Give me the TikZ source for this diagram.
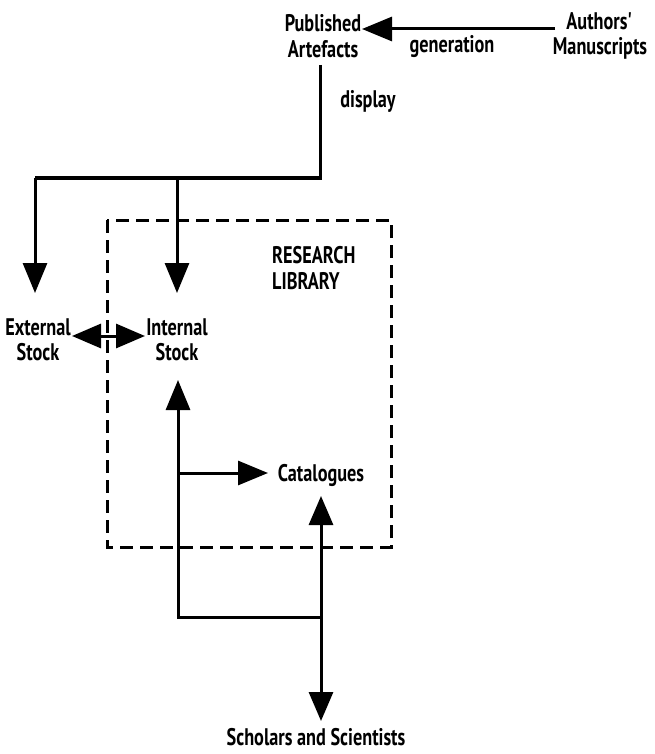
\documentclass[tikz,border=0pt]{standalone}
\usepackage{fontspec}
\setmainfont{PT Sans}[FakeStretch=0.76]
\usetikzlibrary{arrows.meta}
\tikzset{
  lbl/.style={align=center, inner sep=0pt, font=\fontsize{24}{25.5}\selectfont\bfseries},
  conn/.style={line width=3pt},
  head/.style={-{Triangle[length=30pt,width=24pt]}},
  dhead/.style={{Triangle[length=29pt,width=24pt]}-{Triangle[length=29pt,width=24pt]}},
  libbox/.style={line width=3pt, dash pattern=on 13pt off 7pt}
}
\begin{document}
\begin{tikzpicture}[x=1pt,y=-1pt]
\useasboundingbox (0,0) rectangle (654,754);

% library boundary
\draw[libbox] (107,220) rectangle (391,547);

% labels
\node[lbl] (pub)  at (323,36) {Published\\Artefacts};
\node[lbl] (auth) at (600,36) {Authors\textquotesingle\\Manuscripts};
\node[lbl] (gen)  at (452,47) {generation};
\node[lbl] (disp) at (368,101) {display};
\node[lbl, align=left, anchor=west] (lib) at (272,268) {RESEARCH\\LIBRARY};
\node[lbl] (ext)  at (38,340) {External\\Stock};
\node[lbl] (int)  at (177,340) {Internal\\Stock};
\node[lbl] (cat)  at (321,475) {Catalogues};
\node[lbl] (sch)  at (316,737) {Scholars and Scientists};

% junction points
\coordinate (pubfoot) at (320,65);
\coordinate (split)   at (320,178);
\coordinate (extsp)   at (35,178);
\coordinate (intsp)   at (177,178);
\coordinate (exttip)  at (35,293);
\coordinate (inttip)  at (177,293);
\coordinate (gentail) at (555,29);
\coordinate (gentip)  at (362,29);
\coordinate (xl)      at (72,336);
\coordinate (xr)      at (145,336);
\coordinate (upint)   at (178,380);
\coordinate (branch)  at (178,473);
\coordinate (cattip)  at (268,473);
\coordinate (corner)  at (178,617);
\coordinate (join)    at (321,617);
\coordinate (catup)   at (321,496);
\coordinate (schtip)  at (321,721);

% generation
\draw[conn, head] (gentail) -- (gentip);
% display to the two stocks
\draw[conn, line join=miter] (pubfoot) -- (split) -- (extsp);
\draw[conn, head] (extsp) -- (exttip);
\draw[conn, head] (intsp) -- (inttip);
% exchange between stocks
\draw[conn, dhead] (xl) -- (xr);
% access paths
\draw[conn, head, line join=miter] (join) -- (corner) -- (upint);
\draw[conn, head] (branch) -- (cattip);
\draw[conn, dhead] (catup) -- (schtip);
\end{tikzpicture}
\end{document}
